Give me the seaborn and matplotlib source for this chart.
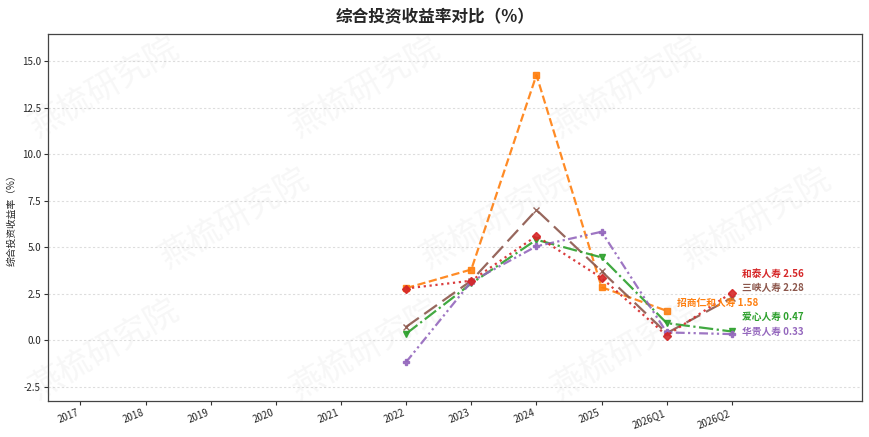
import matplotlib
matplotlib.use("Agg")
import matplotlib.pyplot as plt
import seaborn as sns
import numpy as np

# Catégories de l'axe x
periods = ["2017", "2018", "2019", "2020", "2021", "2022", "2023", "2024", "2025", "2026Q1", "2026Q2"]

# Séries (None = pas de donnée)
hetai = [None, None, None, None, None, 2.78, 3.2, 5.6, 3.35, 0.25, 2.56]
zhaoshang = [None, None, None, None, None, 2.8, 3.8, 14.25, 2.85, 1.58, None]
sanxia = [None, None, None, None, None, 0.72, 3.2, 7.0, 3.7, 0.38, 2.28]
aixin = [None, None, None, None, None, 0.35, 3.05, 5.4, 4.45, 0.92, 0.47]
huagui = [None, None, None, None, None, -1.17, 3.15, 5.05, 5.83, 0.42, 0.33]

series_names = ["招商仁和人寿", "三峡人寿", "爱心人寿", "华贵人寿", "和泰人寿"]
series_values = [zhaoshang, sanxia, aixin, huagui, hetai]

styles = {
    "和泰人寿": dict(color="#d62728", marker="D", linestyle=":"),
    "招商仁和人寿": dict(color="#ff7f0e", marker="s", linestyle="--"),
    "三峡人寿": dict(color="#8c564b", marker="x", linestyle=(0, (7, 3))),
    "爱心人寿": dict(color="#2ca02c", marker="v", linestyle="-."),
    "华贵人寿": dict(color="#9467bd", marker="P", linestyle=(0, (4, 1.5, 1, 1.5, 1, 1.5))),
}

sns.set_style("white")
plt.rcParams['font.family'] = ['Noto Sans CJK SC', 'DejaVu Sans']
plt.rcParams['axes.unicode_minus'] = False

fig = plt.figure(figsize=(8.7, 4.37), dpi=100)
ax = fig.add_axes([0.055, 0.083, 0.936, 0.839])

x_idx = np.arange(len(periods))
end_points = []
for name, vals in zip(series_names, series_values):
    arr = np.array([np.nan if v is None else v for v in vals], dtype=float)
    mask = ~np.isnan(arr)
    st = styles[name]
    sns.lineplot(x=x_idx[mask], y=arr[mask], ax=ax, color=st["color"], marker=st["marker"],
                 linestyle=st["linestyle"], linewidth=1.6, markersize=4.5,
                 markeredgecolor=st["color"], markeredgewidth=1.0, alpha=0.9, sort=False)
    last = np.where(mask)[0][-1]
    end_points.append((name, x_idx[last], arr[last], st["color"]))

# Étiquettes de fin de série, écartées pour éviter le chevauchement
end_points.sort(key=lambda t: t[2])
prev = None
for name, xe, ye, col in end_points:
    ylab = ye if prev is None else max(ye, prev + 0.78)
    prev = ylab
    ax.text(xe + 0.15, ylab + 0.12, f"{name} {ye:.2f}", color=col, fontsize=7,
            fontweight="bold", va="center", ha="left")

ax.set_xlim(-0.5, 12.0)
ax.set_ylim(-3.25, 16.45)
ax.set_xticks(x_idx)
ax.set_xticklabels(periods, rotation=22, ha="right", fontsize=7)
ax.set_yticks(np.arange(-2.5, 15.1, 2.5))
ax.set_yticklabels([f"{v:.1f}" for v in np.arange(-2.5, 15.1, 2.5)], fontsize=7)
ax.tick_params(axis="both", length=3, width=0.8, color="#333333", pad=2, bottom=True, left=True)
ax.yaxis.grid(True, linestyle=(0, (2, 2)), color="#dddddd", linewidth=0.8)
ax.xaxis.grid(False)
for sp in ax.spines.values():
    sp.set_color("#444444")
    sp.set_linewidth(0.9)
ax.set_ylabel("综合投资收益率（%）", fontsize=7, labelpad=4)
ax.set_xlabel("")
fig.text(0.5, 0.96, "综合投资收益率对比（%）", ha="center", va="center", fontsize=12, fontweight="bold")

# Filigrane (gardé à l'intérieur de la figure)
for row, gy in enumerate([0.2, 0.5, 0.8]):
    xs = [0.12, 0.42, 0.72] if row % 2 == 0 else [0.27, 0.57, 0.87]
    for gx in xs:
        fig.text(gx, gy, "燕梳研究院", fontsize=24, color="#888888", alpha=0.07,
                 rotation=30, ha="center", va="center", zorder=0)

fig.savefig("out.png", dpi=100)
